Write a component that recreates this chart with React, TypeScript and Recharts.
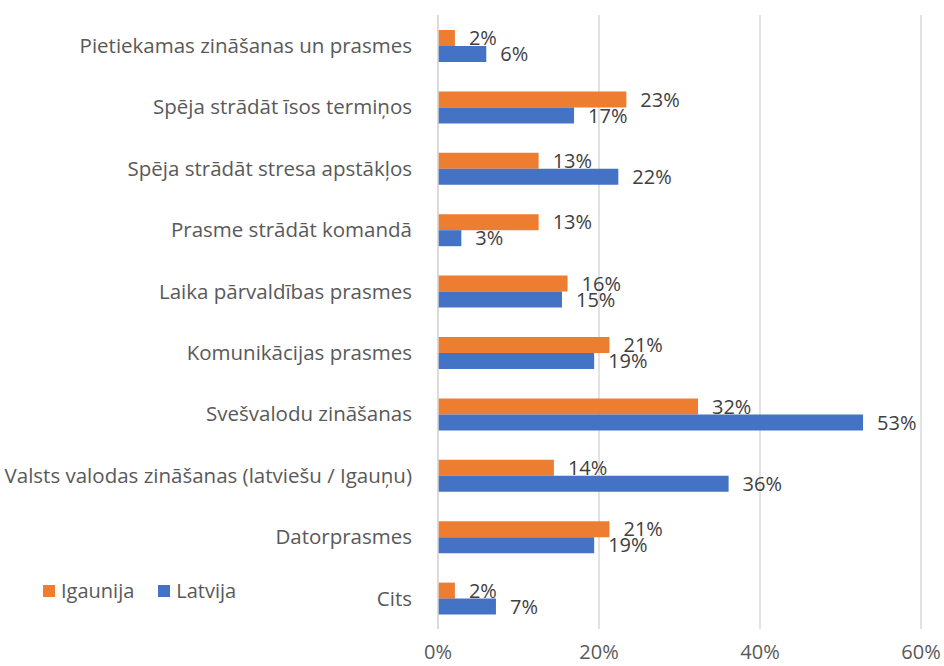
import { Bar, BarChart, CartesianGrid, LabelList, XAxis, YAxis } from 'recharts';

const categories = [
    'Pietiekamas zināšanas un prasmes',
    'Spēja strādāt īsos termiņos',
    'Spēja strādāt stresa apstākļos',
    'Prasme strādāt komandā',
    'Laika pārvaldības prasmes',
    'Komunikācijas prasmes',
    'Svešvalodu zināšanas',
    'Valsts valodas zināšanas (latviešu / Igauņu)',
    'Datorprasmes',
    'Cits',
];

// values in percent
const igaunija = [2.1, 23.4, 12.5, 12.5, 16.1, 21.3, 32.3, 14.4, 21.3, 2.1];
const latvija = [6.0, 16.9, 22.4, 2.9, 15.4, 19.4, 52.8, 36.1, 19.4, 7.2];

const xTicks = [0, 20, 40, 60];

const series = [
    { key: 'igaunija', name: 'Igaunija', color: '#ED7D31' },
    { key: 'latvija', name: 'Latvija', color: '#4472C4' },
];

const data = categories.map((name, i) => ({
    name,
    igaunija: igaunija[i],
    latvija: latvija[i],
}));

const font = 'Open Sans, sans-serif';
const pct = (v: any) => `${Math.round(Number(v))}%`;

export default function App() {
    return (
        <div style={{ position: 'relative', width: 944, height: 666, fontFamily: font }}>
            <style>{`body{margin:0}`}</style>
            <BarChart
                width={944}
                height={666}
                data={data}
                layout="vertical"
                margin={{ top: 15, right: 23, bottom: 7, left: 0 }}
                barGap={0}
            >
                <CartesianGrid horizontal={false} stroke="#d9d9d9" strokeWidth={1.5} />
                <XAxis
                    type="number"
                    domain={[0, 60]}
                    ticks={xTicks}
                    tickFormatter={(v) => `${v}%`}
                    axisLine={false}
                    tickLine={false}
                    height={30}
                    tick={{ fill: '#595959', fontSize: 20, fontFamily: font }}
                    tickMargin={10}
                />
                <YAxis
                    type="category"
                    dataKey="name"
                    width={438}
                    axisLine={{ stroke: '#d9d9d9', strokeWidth: 1.5 }}
                    tickLine={false}
                    tickMargin={20}
                    interval={0}
                    tick={{ fill: '#595959', fontSize: 20.5, fontFamily: font }}
                />
                {series.map((s) => (
                    <Bar key={s.key} dataKey={s.key} name={s.name} fill={s.color} barSize={16} isAnimationActive={false}>
                        <LabelList dataKey={s.key} position="right" offset={14} formatter={pct} fill="#404040" fontSize={20} fontFamily={font} />
                    </Bar>
                ))}
            </BarChart>
            <div style={{ position: 'absolute', left: 43, top: 578, display: 'flex', alignItems: 'center', fontSize: 20, color: '#595959', lineHeight: '26px' }}>
                {series.map((s) => (
                    <div key={s.key} style={{ display: 'flex', alignItems: 'center', marginRight: 24 }}>
                        <span style={{ display: 'inline-block', width: 12, height: 12, background: s.color, marginRight: 6 }} />
                        {s.name}
                    </div>
                ))}
            </div>
        </div>
    );
}
